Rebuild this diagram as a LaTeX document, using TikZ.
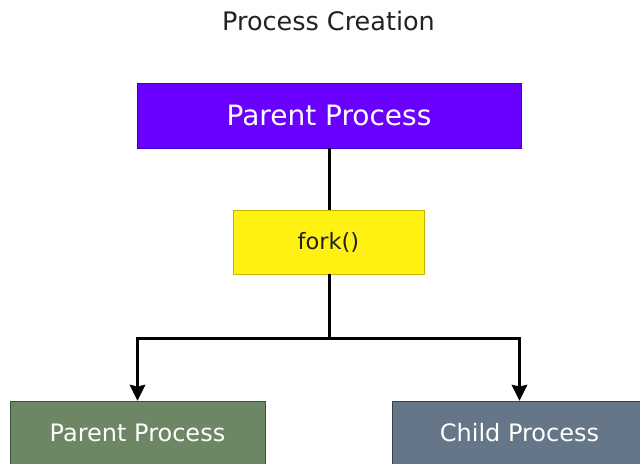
\documentclass[tikz,border=0pt]{standalone}
\usepackage{fontspec}
\setmainfont{DejaVu Sans}
\usetikzlibrary{arrows.meta}
\definecolor{vfill}{HTML}{6A00FF}
\definecolor{vdraw}{HTML}{3700CC}
\definecolor{yfill}{HTML}{FFF212}
\definecolor{ydraw}{HTML}{C8B400}
\definecolor{gfill}{HTML}{6D8764}
\definecolor{gdraw}{HTML}{3A5431}
\definecolor{sfill}{HTML}{647687}
\definecolor{sdraw}{HTML}{314354}
\definecolor{tdark}{HTML}{222222}
\tikzset{
  box/.style={rectangle, inner sep=0pt, line width=0.8bp},
  conn/.style={line width=3bp, draw=black},
  tip/.style={-{Stealth[length=16bp,width=16bp,inset=2bp,fill=black,line width=0.5bp]}}
}
\begin{document}
\begin{tikzpicture}[x=1bp,y=-1bp]
\useasboundingbox (0,0) rectangle (640,464);
\clip (0,0) rectangle (640,464);
\node[text=tdark] (title) at (328.5,21) {\fontsize{25.5bp}{30bp}\selectfont Process Creation};
\node[box, fill=vfill, draw=vdraw, minimum width=384bp, minimum height=65bp, text=white] (parent) at (329,115.5) {\fontsize{28bp}{32bp}\selectfont Parent Process};
\node[box, fill=yfill, draw=ydraw, minimum width=191bp, minimum height=64bp, text=tdark] (fork) at (328.5,242) {\fontsize{22.5bp}{27bp}\selectfont fork()};
\node[box, fill=gfill, draw=gdraw, minimum width=255bp, minimum height=64bp, text=white] (pchild) at (137.5,433) {\fontsize{24bp}{28bp}\selectfont Parent Process};
\node[box, fill=sfill, draw=sdraw, minimum width=255bp, minimum height=64bp, text=white] (child) at (519.5,433) {\fontsize{24bp}{28bp}\selectfont Child Process};
\coordinate (split) at (329,338);
\draw[conn] (parent.south -| split) -- (fork.north -| split);
\draw[conn] (fork.south -| split) -- (split);
\draw[conn, tip] (split) -| (pchild.north);
\draw[conn, tip] (split) -| (child.north);
\end{tikzpicture}
\end{document}
